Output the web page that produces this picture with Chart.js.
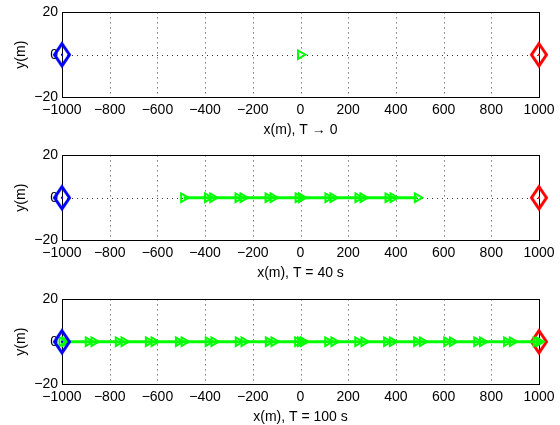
<!DOCTYPE html>
<html>
<head>
<meta charset="utf-8">
<script src="https://cdn.jsdelivr.net/npm/chart.js@4.4.0/dist/chart.umd.min.js"></script>
<style>
    html, body { margin: 0; padding: 0; background: #fff; width: 560px; height: 425px; overflow: hidden; }
    .panel { position: absolute; left: 0; width: 560px; height: 140px; }
</style>
</head>
<body>
<div class="panel" style="top:0px"><canvas id="plotT0" width="560" height="140"></canvas></div>
<div class="panel" style="top:143px"><canvas id="plotT40" width="560" height="140"></canvas></div>
<div class="panel" style="top:287px"><canvas id="plotT100" width="560" height="140"></canvas></div>
<script>
// axis ticks
const xTicks = [-1000, -800, -600, -400, -200, 0, 200, 400, 600, 800, 1000];
const xTickLabels = ["\u22121000", "\u2212800", "\u2212600", "\u2212400", "\u2212200", "0", "200", "400", "600", "800", "1000"];
const yTicks = [-20, 0, 20];
const yTickLabels = ["\u221220", "0", "20"];
const xTitles = ["x(m), T \u2192 0", "x(m), T = 40 s", "x(m), T = 100 s"];
const yTitle = "y(m)";

// end nodes and the lane they sit on
const laneY = 0;
const sourceX = [-1000];
const sinkX = [1000];

// green vehicle positions (m) at each snapshot
const posT0 = [0];
const posT40 = [-490, -390, -368, -262, -241, -136, -115, -10, 4, 115, 136, 241, 262, 367, 388, 490];
const posT100 = [-1000, -988, -890, -866, -764, -740, -638, -614, -512, -488, -387, -363, -261, -237,
    -135, -111, -12, 0, 12, 114, 140, 240, 266, 361, 385, 487, 511, 613, 637, 739, 763, 864, 888, 988, 1000];

const FONT = "'Liberation Sans', Arial, Helvetica, sans-serif";

const diamond = (color) => {
    const c = document.createElement("canvas");
    c.width = 24;
    c.height = 32;
    const g = c.getContext("2d");
    g.strokeStyle = color;
    g.lineWidth = 3;
    g.lineJoin = "miter";
    g.beginPath();
    g.moveTo(12, 5);
    g.lineTo(19.5, 16);
    g.lineTo(12, 27);
    g.lineTo(4.5, 16);
    g.closePath();
    g.stroke();
    g.fillStyle = color;
    g.fillRect(11, 15, 2, 2);
    return c;
};
const blueDiamond = diamond("#0000ff");
const redDiamond = diamond("#ff0000");

// matlab-ish dotted grid + solid box, drawn under the data
const boxPlugin = {
    id: "box",
    beforeDatasetsDraw(chart) {
        const a = chart.chartArea;
        const ctx = chart.ctx;
        const xs = chart.scales.x;
        const ys = chart.scales.y;
        ctx.save();
        ctx.strokeStyle = "rgba(0,0,0,0.8)";
        ctx.lineWidth = 1;
        ctx.setLineDash([1, 4]);
        ctx.beginPath();
        xTicks.slice(1, -1).forEach((v) => {
            const px = Math.round(xs.getPixelForValue(v)) + 0.5;
            ctx.moveTo(px, a.top);
            ctx.lineTo(px, a.bottom);
        });
        yTicks.slice(1, -1).forEach((v) => {
            const py = Math.round(ys.getPixelForValue(v)) + 0.5;
            ctx.moveTo(a.left, py);
            ctx.lineTo(a.right, py);
        });
        ctx.stroke();
        ctx.setLineDash([]);
        ctx.strokeStyle = "#000";
        ctx.strokeRect(Math.round(a.left) + 0.5, Math.round(a.top) + 0.5,
            Math.round(a.right - a.left), Math.round(a.bottom - a.top));
        ctx.restore();
    }
};

const toPoints = (xs) => xs.map((x) => ({ x, y: laneY }));

const hiddenGrid = { display: true, drawTicks: false, drawOnChartArea: false, color: "rgba(0,0,0,0)" };

const makePlot = (canvasId, positions, title, joined) => new Chart(document.getElementById(canvasId), {
    type: "scatter",
    data: {
        datasets: [
            {
                data: toPoints(sourceX),
                pointStyle: blueDiamond,
                pointRadius: 12,
                showLine: false,
                clip: false,
                order: 0
            },
            {
                data: toPoints(positions),
                showLine: joined,
                borderColor: "#00ff00",
                borderWidth: 3,
                pointStyle: "triangle",
                rotation: 90,
                pointRadius: 5,
                pointBorderWidth: 2,
                pointBorderColor: "#00ff00",
                pointBackgroundColor: "rgba(0,0,0,0)",
                clip: false,
                order: 1
            },
            {
                data: toPoints(sinkX),
                pointStyle: redDiamond,
                pointRadius: 12,
                showLine: false,
                clip: false,
                order: 2
            }
        ]
    },
    options: {
        responsive: false,
        animation: false,
        events: [],
        layout: { padding: { top: 12, right: 21, left: 0, bottom: 0 }, autoPadding: false },
        plugins: { legend: { display: false }, tooltip: { enabled: false } },
        scales: {
            x: {
                type: "linear",
                min: -1000,
                max: 1000,
                afterBuildTicks: (scale) => { scale.ticks = xTicks.map((v) => ({ value: v })); },
                afterFit: (scale) => { scale.height = 43; },
                border: { display: false },
                grid: hiddenGrid,
                ticks: {
                    padding: 5,
                    color: "#000",
                    maxRotation: 0,
                    font: { family: FONT, size: 14 },
                    callback: (v) => xTickLabels[xTicks.indexOf(v)]
                },
                title: { display: true, text: title, color: "#000", font: { family: FONT, size: 14 }, padding: { top: 0, bottom: 1 } }
            },
            y: {
                type: "linear",
                min: -20,
                max: 20,
                afterBuildTicks: (scale) => { scale.ticks = yTicks.map((v) => ({ value: v })); },
                afterFit: (scale) => { scale.width = 62; },
                border: { display: false },
                grid: hiddenGrid,
                ticks: {
                    padding: 4,
                    color: "#000",
                    font: { family: FONT, size: 14 },
                    callback: (v) => yTickLabels[yTicks.indexOf(v)]
                },
                title: { display: true, text: yTitle, color: "#000", font: { family: FONT, size: 14 }, padding: { top: 13, bottom: 0 } }
            }
        }
    },
    plugins: [boxPlugin]
});

makePlot("plotT0", posT0, xTitles[0], false);
makePlot("plotT40", posT40, xTitles[1], true);
makePlot("plotT100", posT100, xTitles[2], true);
</script>
</body>
</html>
